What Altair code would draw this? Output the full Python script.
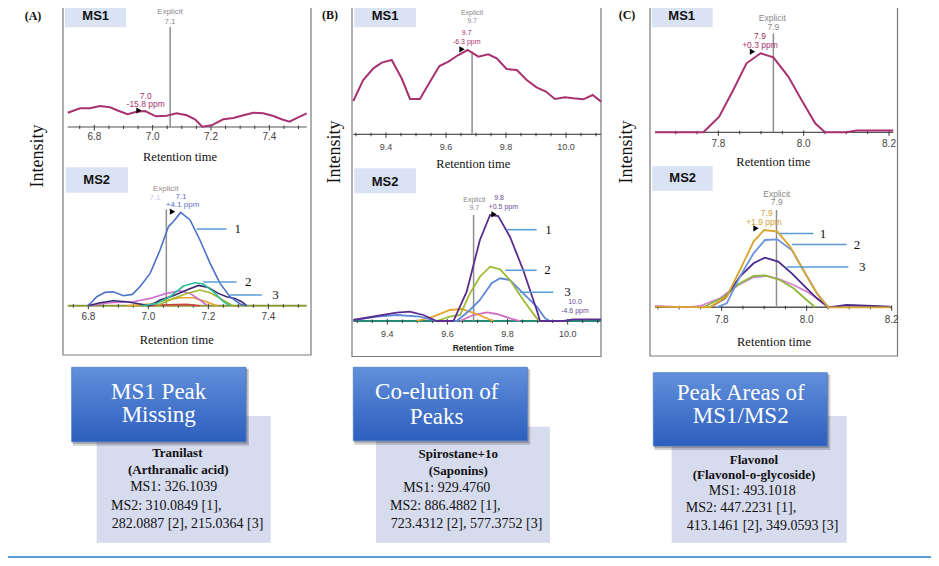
import altair as alt
import numpy as np
import pandas as pd

W, H, OFF = 923, 550, 8
SERIF = "Liberation Serif"
SANS = "Liberation Sans"

# ---------------- data: retention time (min) / relative intensity ----------------
# (A) Tranilast
A_MS1_rt = [6.709, 6.751, 6.785, 6.819, 6.854, 6.882, 6.914, 6.945, 6.974, 7.011, 7.048, 7.082, 7.117,
            7.145, 7.170, 7.202, 7.242, 7.277, 7.311, 7.345, 7.379, 7.414, 7.442, 7.469, 7.499, 7.528]
A_MS1_int = [14.3, 18.7, 18.7, 21.0, 19.7, 16.3, 12.7, 15.3, 16.0, 10.7, 11.3, 13.7, 11.7,
             7.7, 0.3, 1.7, 7.7, 9.0, 11.7, 14.3, 13.7, 11.0, 7.7, 5.3, 9.7, 13.7]
A_MS2_blue_rt = [6.800, 6.828, 6.856, 6.883, 6.917, 6.947, 6.972, 7.006, 7.039, 7.067, 7.083, 7.108,
                 7.139, 7.172, 7.206, 7.239, 7.272, 7.306, 7.328]
A_MS2_blue_int = [0, 9.0, 13.3, 14.0, 10.0, 11.3, 19.0, 32.3, 55.7, 79.0, 84.0, 93.3,
                  85.7, 65.7, 42.3, 22.3, 9.0, 1.7, 0]
A_MS2_teal_rt = [6.980, 7.028, 7.072, 7.117, 7.156, 7.183, 7.217, 7.250, 7.272]
A_MS2_teal_int = [0, 2.3, 9.0, 19.7, 23.0, 21.7, 14.0, 4.0, 0]
A_MS2_purple_rt = [6.800, 6.839, 6.883, 6.928, 6.972, 7.006, 7.039, 7.083, 7.128, 7.167, 7.200, 7.233,
                   7.261, 7.289, 7.311, 7.328]
A_MS2_purple_int = [0, 3.0, 5.0, 4.0, 1.7, 0, 5.7, 10.0, 15.7, 20.3, 18.3, 12.3, 9.0, 7.3, 4.0, 0]
A_MS2_green_rt = [7.028, 7.083, 7.128, 7.172, 7.206, 7.239, 7.272, 7.283]
A_MS2_green_int = [0, 7.3, 12.3, 15.7, 13.0, 7.3, 1.7, 0]
A_MS2_pink_rt = [6.800, 6.872, 6.950, 7.006, 7.061, 7.106, 7.139, 7.172, 7.194]
A_MS2_pink_int = [0, 3.0, 4.0, 7.3, 12.3, 15.0, 12.3, 5.7, 0.7]
A_MS2_orange_rt = [6.928, 7.006, 7.061, 7.106, 7.150, 7.194, 7.228]
A_MS2_orange_int = [0, 1.7, 5.7, 8.0, 8.0, 4.0, 0]
A_MS2_red_rt = [6.994, 7.061, 7.128, 7.172]
A_MS2_red_int = [0, 1.0, 1.3, 0]

# (B) Spirostane+1o
B_MS1_rt = [9.291, 9.324, 9.358, 9.386, 9.419, 9.452, 9.480, 9.513, 9.547, 9.578, 9.608, 9.641, 9.672, 9.708,
            9.741, 9.769, 9.802, 9.836, 9.869, 9.902, 9.933, 9.963, 9.997, 10.024, 10.058, 10.089, 10.117]
B_MS1_int = [33.3, 54.3, 66.0, 71.7, 74.3, 56.0, 35.3, 35.3, 52.7, 68.3, 72.7, 79.3, 84.3, 77.7,
             80.0, 76.0, 65.3, 64.3, 54.3, 47.0, 42.7, 35.3, 37.0, 36.0, 35.0, 39.3, 32.7]
B_MS2_purple_rt = [9.287, 9.365, 9.431, 9.475, 9.520, 9.564, 9.620, 9.664, 9.708, 9.742, 9.769, 9.808,
                   9.852, 9.897, 9.908, 9.986, 10.019, 10.111]
B_MS2_purple_int = [1.0, 5.0, 8.3, 9.3, 6.0, 0, 0, 29.3, 81.0, 106.0, 105.0, 84.3, 51.0, 11.0, 0, 0, 1.7, 1.7]
B_MS2_green_rt = [9.564, 9.608, 9.642, 9.675, 9.708, 9.742, 9.775, 9.808, 9.852, 9.897, 9.908]
B_MS2_green_int = [0, 4.3, 6.0, 27.7, 44.3, 54.3, 51.7, 41.0, 21.0, 2.7, 0]
B_MS2_blue_rt = [9.287, 9.365, 9.431, 9.509, 9.564, 9.631, 9.675, 9.708, 9.747, 9.775, 9.808, 9.852,
                 9.897, 9.925, 9.941]
B_MS2_blue_int = [1.0, 4.3, 6.0, 4.3, 0, 0, 11.0, 21.0, 37.7, 42.7, 41.0, 27.7, 14.3, 2.7, 0]
B_MS2_orange_rt = [9.498, 9.553, 9.608, 9.647, 9.697, 9.753]
B_MS2_orange_int = [0, 4.3, 11.0, 12.0, 7.0, 0]
B_MS2_pink_rt = [9.642, 9.686, 9.731, 9.764, 9.808, 9.841]
B_MS2_pink_int = [0, 6.0, 8.7, 7.0, 2.7, 0]

# (C) Flavonol
C_MS1_rt = [7.652, 7.765, 7.802, 7.835, 7.866, 7.899, 7.929, 7.964, 7.995, 8.027, 8.050, 8.101, 8.124, 8.210]
C_MS1_int = [0, 0, 15.7, 42.3, 69.0, 79.0, 75.0, 55.7, 32.3, 9.0, 0, 0, 1.7, 1.7]
C_MS2_gold_rt = [7.643, 7.773, 7.812, 7.843, 7.875, 7.900, 7.931, 7.961, 7.992, 8.024, 8.051, 8.196]
C_MS2_gold_int = [0.7, 0, 10.7, 37.3, 65.7, 77.3, 75.7, 60.7, 37.3, 14.0, 0, 0]
C_MS2_blue_rt = [7.788, 7.812, 7.843, 7.875, 7.902, 7.931, 7.965, 7.992, 8.024, 8.051]
C_MS2_blue_int = [0, 4.0, 30.7, 54.0, 67.3, 68.0, 57.3, 37.3, 14.0, 0]
C_MS2_purple_rt = [7.773, 7.808, 7.843, 7.875, 7.902, 7.933, 7.965, 7.996, 8.024, 8.051, 8.094, 8.157, 8.196]
C_MS2_purple_int = [0, 9.0, 30.7, 44.0, 49.7, 45.7, 34.0, 20.7, 9.0, 0, 2.3, 1.3, 0.7]
C_MS2_green_rt = [7.757, 7.804, 7.843, 7.875, 7.902, 7.937, 7.969, 8.000, 8.020]
C_MS2_green_int = [0, 10.0, 24.0, 31.3, 32.0, 27.3, 19.0, 7.3, 0]
C_MS2_pink_rt = [7.643, 7.718, 7.749, 7.796, 7.835, 7.875, 7.906, 7.937, 7.969, 8.000, 8.031, 8.051]
C_MS2_pink_int = [1.3, 0, 1.3, 9.0, 21.3, 30.0, 31.3, 28.0, 22.3, 15.7, 7.3, 0.7]

# explicit retention times
A_explicit = 7.06
B_explicit = 9.687
C_explicit = 7.929

# tick labels
A_labels = [6.8, 7.0, 7.2, 7.4]
B_labels = [9.4, 9.6, 9.8, 10.0]
C_labels = [7.8, 8.0, 8.2]

# fragment callouts (x0, x1, intensity, x_text, label)
A_callouts = [(7.161, 7.261, 76.7, 7.287, "1"), (7.183, 7.294, 23.7, 7.322, "2"), (7.272, 7.378, 10.8, 7.413, "3")]
B_callouts = [(9.797, 9.897, 91.3, 9.925, "1"), (9.792, 9.897, 50.7, 9.922, "2"), (9.841, 9.952, 28.7, 9.989, "3")]
C_callouts = [(7.937, 8.016, 73.7, 8.031, "1"), (7.965, 8.094, 62.7, 8.111, "2"), (7.953, 8.098, 40.3, 8.123, "3")]

# ---------------- layout of the six sub-plots (reference pixels) ----------------
SUBS = {
    "A1": dict(cal=(6.8, 94.33, 7.4, 269.33), base=127.0, ax=(67.7, 306.7)),
    "A2": dict(cal=(6.8, 88.33, 7.4, 268.33), base=305.7, ax=(67.7, 306.7)),
    "B1": dict(cal=(9.4, 386.0, 10.0, 566.0), base=134.3, ax=(353.3, 601.0)),
    "B2": dict(cal=(9.4, 387.33, 10.0, 567.67), base=321.0, ax=(353.3, 601.0)),
    "C1": dict(cal=(7.8, 718.33, 8.0, 803.67), base=132.3, ax=(655.0, 893.3)),
    "C2": dict(cal=(7.8, 721.67, 8.0, 806.67), base=307.3, ax=(655.0, 891.7)),
}


def slope(key):
    v0, p0, v1, p1 = SUBS[key]["cal"]
    return (p1 - p0) / (v1 - v0)


def px2val(key, px):
    v0, p0, v1, p1 = SUBS[key]["cal"]
    return v0 + (px - p0) / slope(key)


def scales(key):
    v0, p0, v1, p1 = SUBS[key]["cal"]
    k = slope(key)
    d0 = v0 - (p0 - OFF) / k
    xs = alt.Scale(domain=[d0, d0 + W / k], nice=False, zero=False)
    b = SUBS[key]["base"] - OFF
    ys = alt.Scale(domain=[b - H, b], nice=False, zero=False)
    return xs, ys


def X(f, s):
    return alt.X(f, type="quantitative", scale=s, axis=None)


def Y(f, s):
    return alt.Y(f, type="quantitative", scale=s, axis=None)


def subplot(key, series, explicit, etop, labels, lab_dy, lab_size, axcolor, axw, lw, callouts=None):
    xs, ys = scales(key)
    lo, hi = (px2val(key, p) for p in SUBS[key]["ax"])
    L = []
    L.append(alt.Chart(pd.DataFrame({"a": [lo], "b": [hi], "y": [0.0]}))
             .mark_rule(color=axcolor, strokeWidth=axw)
             .encode(x=X("a", xs), x2="b", y=Y("y", ys)))
    ticks = [round(t, 2) for t in np.arange(np.ceil(lo / 0.05) * 0.05, hi + 1e-9, 0.05)]
    major = [any(abs(t - m) < 1e-6 for m in labels) for t in ticks]
    td = pd.DataFrame({"t": ticks,
                       "y0": [-3.5 if m else -2.0 for m in major],
                       "y1": [2.0 if m else 1.5 for m in major]})
    L.append(alt.Chart(td).mark_rule(color="#3a3a3a", strokeWidth=1)
             .encode(x=X("t", xs), y=Y("y0", ys), y2="y1"))
    ld = pd.DataFrame({"t": labels, "s": [f"{v:.1f}" for v in labels], "y": [lab_dy] * len(labels)})
    L.append(alt.Chart(ld).mark_text(font=SANS, fontSize=lab_size, color="#444444", baseline="middle")
             .encode(x=X("t", xs), y=Y("y", ys), text="s:N"))
    L.append(alt.Chart(pd.DataFrame({"x": [explicit], "y0": [0.0], "y1": [etop]}))
             .mark_rule(color="#8f8f8f", strokeWidth=1.5)
             .encode(x=X("x", xs), y=Y("y0", ys), y2="y1"))
    rows = []
    names, cols = [], []
    for name, rt, it, col in series:
        names.append(name)
        cols.append(col)
        rows += [{"rt": r, "i": v, "s": name} for r, v in zip(rt, it)]
    L.append(alt.Chart(pd.DataFrame(rows)).mark_line(strokeWidth=lw)
             .encode(x=X("rt", xs), y=Y("i", ys),
                     color=alt.Color("s:N", scale=alt.Scale(domain=names, range=cols), legend=None),
                     order=alt.Order("rt:Q")))
    if callouts:
        cd = pd.DataFrame([{"x0": a, "x1": b, "y": y, "xt": t, "lab": s} for a, b, y, t, s in callouts])
        L.append(alt.Chart(cd).mark_rule(color="#5b9bd5", strokeWidth=1.5)
                 .encode(x=X("x0", xs), x2="x1", y=Y("y", ys)))
        L.append(alt.Chart(cd).mark_text(font=SERIF, fontSize=13, color="#111111", align="left", baseline="middle")
                 .encode(x=X("xt", xs), y=Y("y", ys), text="lab:N"))
    return L


ONE = pd.DataFrame({"k": [0]})


def txt(s, x, y, size=9, color="#000000", font=SANS, weight="normal", align="center", angle=0):
    kw = dict(text=s, fontSize=size, color=color, font=font, fontWeight=weight, align=align, baseline="middle")
    if angle:
        kw["angle"] = angle
    return alt.Chart(ONE).mark_text(**kw).encode(x=alt.value(x - OFF), y=alt.value(y - OFF))


def rect(x0, y0, x1, y1, fill="#ffffff", stroke=None, sw=1.0, opacity=1.0, fill_opacity=1.0):
    kw = dict(fill=fill, fillOpacity=fill_opacity, opacity=opacity)
    if stroke:
        kw.update(stroke=stroke, strokeWidth=sw)
    return alt.Chart(ONE).mark_rect(**kw).encode(
        x=alt.value(x0 - OFF), x2=alt.value(x1 - OFF), y=alt.value(y0 - OFF), y2=alt.value(y1 - OFF))


def tri(x, y):
    return alt.Chart(ONE).mark_point(shape="triangle-right", filled=True, color="#000000", size=38, opacity=1).encode(
        x=alt.value(x - OFF), y=alt.value(y - OFF))


GREY = "#8a8a8a"
MAG = "#a8326f"
LBL = "#dae3f3"

layers = []
# panel frames
for x0, x1, y1 in [(63, 311, 355), (352, 601, 356.5), (650, 897.5, 356)]:
    layers.append(rect(x0, -2, x1, y1, fill="#ffffff", fill_opacity=0, stroke="#7a7a7a", sw=1.2))
# MS labels
for (x0, y0, x1, y1, s, tx, ty) in [
        (65, 2, 126, 27.3, "MS1", 95.7, 15.7), (65.7, 167.3, 128, 192.7, "MS2", 96.7, 180),
        (354.3, 2, 416, 27.3, "MS1", 385, 15.7), (354.3, 168.3, 416, 193.3, "MS2", 385, 181.7),
        (651.7, 2, 712.7, 27.3, "MS1", 681.7, 15.7), (652.3, 166, 712.7, 191, "MS2", 682.7, 178.3)]:
    layers.append(rect(x0, y0, x1, y1, fill=LBL))
    layers.append(txt(s, tx, ty, 13, "#111111", SANS, "bold"))

# sub-plots
layers += subplot("A1", [("a1", A_MS1_rt, A_MS1_int, MAG)], A_explicit, 100.0, A_labels, -10.0, 10, "#555555", 1.2, 2.0)
layers += subplot("A2", [
    ("red", A_MS2_red_rt, A_MS2_red_int, "#d04040"),
    ("orange", A_MS2_orange_rt, A_MS2_orange_int, "#eaa42c"),
    ("pink", A_MS2_pink_rt, A_MS2_pink_int, "#cf6fcf"),
    ("green", A_MS2_green_rt, A_MS2_green_int, "#a3b82e"),
    ("purple", A_MS2_purple_rt, A_MS2_purple_int, "#3a2a72"),
    ("teal", A_MS2_teal_rt, A_MS2_teal_int, "#2fbf9c"),
    ("blue", A_MS2_blue_rt, A_MS2_blue_int, "#4a70c8")],
    A_explicit, 96.3, A_labels, -11.0, 10, "#8c9a38", 2.0, 1.6, A_callouts)
layers += subplot("B1", [("b1", B_MS1_rt, B_MS1_int, MAG)], B_explicit, 82.7, B_labels, -12.4, 9, "#555555", 1.2, 2.0)
layers += subplot("B2", [
    ("pink", B_MS2_pink_rt, B_MS2_pink_int, "#d070c0"),
    ("orange", B_MS2_orange_rt, B_MS2_orange_int, "#e8a52a"),
    ("blue", B_MS2_blue_rt, B_MS2_blue_int, "#5e8ad8"),
    ("green", B_MS2_green_rt, B_MS2_green_int, "#9cbb30"),
    ("purple", B_MS2_purple_rt, B_MS2_purple_int, "#5b2d8e")],
    B_explicit, 106.0, B_labels, -13.0, 9, "#2a8a78", 2.0, 1.8, B_callouts)
layers += subplot("C1", [("c1", C_MS1_rt, C_MS1_int, MAG)], C_explicit, 99.0, C_labels, -11.7, 10, "#555555", 1.2, 2.0)
layers += subplot("C2", [
    ("pink", C_MS2_pink_rt, C_MS2_pink_int, "#d484d4"),
    ("green", C_MS2_green_rt, C_MS2_green_int, "#8fb838"),
    ("purple", C_MS2_purple_rt, C_MS2_purple_int, "#4a2a8a"),
    ("blue", C_MS2_blue_rt, C_MS2_blue_int, "#6a93dc"),
    ("gold", C_MS2_gold_rt, C_MS2_gold_int, "#d9a52a")],
    C_explicit, 97.3, C_labels, -12.7, 10, "#555555", 1.4, 1.8, C_callouts)

# annotations
PURP = "#6a4a9a"
GOLD = "#d4a23c"
BLUE = "#5a74cc"
layers += [
    txt("Explicit", 170, 12, 8, GREY), txt("7.1", 170, 21.5, 8, GREY),
    txt("7.0", 145.7, 95.5, 8.5, MAG), txt("-15.8 ppm", 145.7, 104, 8.5, MAG), tri(139, 110.5),
    txt("Explicit", 165.7, 189, 8, "#9a8a8a"), txt("7.1", 155, 197.5, 8, "#c8cce0"),
    txt("7.1", 181, 196.5, 8, BLUE), txt("+4.1 ppm", 182.5, 204.5, 8, BLUE), tri(172.5, 211.7),
    txt("Explicit", 472, 13.3, 7, GREY), txt("9.7", 472, 20.7, 7, GREY),
    txt("9.7", 466.7, 33, 7, MAG), txt("-6.3 ppm", 466.7, 41.5, 7, MAG), tri(462, 49.3),
    txt("Explicit", 474.3, 199.5, 7, GREY), txt("9.7", 474.3, 207.7, 7, GREY),
    txt("9.8", 499, 198, 7, PURP), txt("+0.5 ppm", 503.3, 206.5, 7, PURP), tri(494, 214.3),
    txt("10.0", 575, 302, 7, PURP), txt("-4.6 ppm", 575, 310.7, 7, PURP),
    txt("Explicit", 772.3, 18, 8.5, GREY), txt("7.9", 773.3, 26.5, 8.5, GREY),
    txt("7.9", 760, 36, 8.5, MAG), txt("+0.3 ppm", 760, 44.5, 8.5, MAG), tri(752.5, 51.7),
    txt("Explicit", 776.7, 193.5, 8.5, GREY), txt("7.9", 776.7, 201.7, 8.5, GREY),
    txt("7.9", 766.7, 212.8, 8.5, GOLD), txt("+1.9 ppm", 764, 221.5, 8.5, GOLD), tri(756, 228.3),
]
# axis titles and panel letters
layers += [
    txt("Retention time", 180, 157, 12.5, "#111111", SERIF),
    txt("Retention time", 176.7, 340, 12.5, "#111111", SERIF),
    txt("Retention time", 473.3, 164, 12.5, "#111111", SERIF),
    txt("Retention Time", 483.3, 347.7, 8.5, "#222222", SANS, "bold"),
    txt("Retention time", 773.3, 162.3, 12.5, "#111111", SERIF),
    txt("Retention time", 774, 341.7, 12.5, "#111111", SERIF),
    txt("Intensity", 38, 156, 18, "#111111", SERIF, angle=270),
    txt("Intensity", 335, 152, 18, "#111111", SERIF, angle=270),
    txt("Intensity", 627, 152, 18, "#111111", SERIF, angle=270),
    txt("(A)", 33, 16, 12, "#111111", SERIF, "bold"),
    txt("(B)", 330, 15, 12, "#111111", SERIF, "bold"),
    txt("(C)", 627, 15, 12, "#111111", SERIF, "bold"),
]

# summary boxes
GRAD = alt.LinearGradient(gradient="linear",
                          stops=[alt.GradientStop(color="#6290dc", offset=0),
                                 alt.GradientStop(color="#2c5ebd", offset=1)],
                          x1=0, x2=0, y1=0, y2=1)
BOXES = [
    dict(light=(96.7, 416, 270.7, 542.7), blue=(71.7, 367.3, 246, 441.7),
         head=[("MS1 Peak", 158.7, 391.7), ("Missing", 158.7, 415)],
         bold=[("Tranilast", 177.3, 453.3), ("(Arthranalic acid)", 178.3, 470)],
         mid=("MS1: 326.1039", 173.7, 487.3),
         left=[("MS2: 310.0849 [1],", 111, 505.7), ("282.0887 [2], 215.0364 [3]", 111.7, 524)]),
    dict(light=(376, 426.7, 550, 542.7), blue=(353.3, 367.3, 527.3, 440.7),
         head=[("Co-elution of", 436.7, 391.7), ("Peaks", 436.7, 416.7)],
         bold=[("Spirostane+1o", 458.3, 454.3), ("(Saponins)", 458.3, 470.7)],
         mid=("MS1: 929.4760", 446.7, 487.7),
         left=[("MS2: 886.4882 [1],", 390, 505.7), ("723.4312 [2], 577.3752 [3]", 390.7, 524)]),
    dict(light=(671.7, 416, 846.7, 542.7), blue=(653.3, 372.7, 827.3, 446),
         head=[("Peak Areas of", 740.7, 392.7), ("MS1/MS2", 740.7, 416)],
         bold=[("Flavonol", 754, 460), ("(Flavonol-o-glycoside)", 754, 475)],
         mid=("MS1: 493.1018", 752.3, 490.7),
         left=[("MS2: 447.2231 [1],", 685.7, 508.3), ("413.1461 [2], 349.0593 [3]", 686.7, 525.7)]),
]
for b in BOXES:
    lx0, ly0, lx1, ly1 = b["light"]
    layers.append(rect(lx0, ly0, lx1, ly1, fill="#d6dbee"))
    bx0, by0, bx1, by1 = b["blue"]
    layers.append(rect(bx0 + 1, by0 + 2, bx1 + 3, by1 + 4, fill="#000000", fill_opacity=0.18))
    layers.append(rect(bx0 + 1, by0 + 1, bx1 + 1.5, by1 + 2, fill="#000000", fill_opacity=0.2))
    layers.append(alt.Chart(ONE).mark_rect(color=GRAD, stroke="#4a78c8", strokeWidth=0.8).encode(
        x=alt.value(bx0 - OFF), x2=alt.value(bx1 - OFF), y=alt.value(by0 - OFF), y2=alt.value(by1 - OFF)))
    for s, x, y in b["head"]:
        layers.append(txt(s, x, y, 23, "#ffffff", SERIF))
    for s, x, y in b["bold"]:
        layers.append(txt(s, x, y, 13, "#111111", SERIF, "bold"))
    s, x, y = b["mid"]
    layers.append(txt(s, x, y, 14, "#111111", SERIF))
    for s, x, y in b["left"]:
        layers.append(txt(s, x, y, 14, "#111111", SERIF, align="left"))

# bottom rule
layers.append(alt.Chart(ONE).mark_rule(color="#5b9bd5", strokeWidth=2).encode(
    x=alt.value(0), x2=alt.value(W), y=alt.value(549)))

chart = (alt.layer(*layers)
         .resolve_scale(x="independent", y="independent", color="independent")
         .properties(width=W, height=H, autosize=alt.AutoSizeParams(type="none"), padding=0)
         .configure_view(stroke=None))

chart.save("out.html", embed_options={"renderer": "svg", "actions": False})
